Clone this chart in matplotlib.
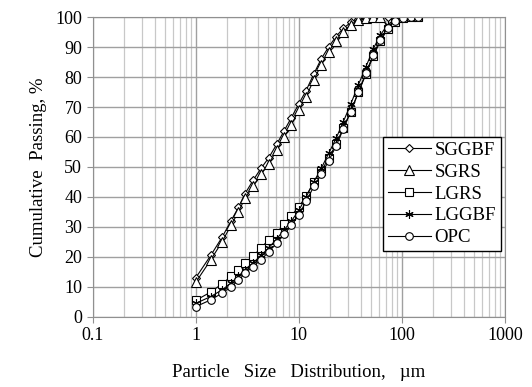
import numpy as np
import matplotlib.pyplot as plt

plt.rcParams['font.family'] = ['Liberation Serif', 'DejaVu Serif']

# particle sizes (um)
size = [1.0, 1.4, 1.8, 2.2, 2.6, 3.0, 3.6, 4.3, 5.1, 6.1, 7.2, 8.5, 10, 11.8,
        14, 16.5, 19.5, 23, 27, 32, 38, 45, 53, 62, 73, 86, 102, 122, 145]

# cumulative passing, %
sggbf = [13, 20.5, 26.5, 32, 36.5, 41, 45.5, 49.5, 53, 57.5, 62, 66.5, 71, 75.5,
         81, 86, 90, 93.5, 96.2, 98.2, 99.3, 99.8, 100, 100, 100]
sgrs = [11.5, 19, 25, 30.5, 35, 39.5, 43.5, 47.5, 51, 55.5, 60, 64, 69, 73.5,
        79, 84, 88.5, 92, 95, 97.5, 99, 99.7, 100, 100]
lgrs = [5.5, 8.3, 11, 13.5, 15.7, 18, 20.3, 23, 25.7, 28, 31, 33.8, 36.7, 40.3,
        45, 48.5, 53, 57.5, 63, 68.5, 75, 81, 87, 92, 96, 98.5, 99.6, 100, 100]
lggbf = [4.5, 6.8, 9, 11.3, 13.5, 15.8, 18, 20.5, 23, 26, 29, 32, 35.5, 40,
         45, 49.5, 54.5, 59.5, 65, 71, 77.5, 83.5, 89.5, 94, 97.5, 99.2, 99.8, 100, 100]
opc = [3.4, 5.7, 7.9, 10, 12.2, 14.5, 16.8, 19, 21.7, 24.5, 27.5, 30.5, 34, 38.5,
       43.5, 47.5, 52, 57, 62.5, 68.5, 75, 81.5, 87.5, 92.5, 96.5, 98.8, 99.7, 100, 100]

fig = plt.figure(figsize=(5.32, 3.87), dpi=100)
ax = fig.add_axes([0.174, 0.181, 0.775, 0.775])

kw = dict(color='black', lw=0.8, mfc='white', mec='black', mew=0.8)
ax.plot(size[:len(sggbf)], sggbf, marker='D', ms=4.5, label='SGGBF', **kw)
ax.plot(size[:len(sgrs)], sgrs, marker='^', ms=6.5, label='SGRS', **kw)
ax.plot(size, lgrs, marker='s', ms=5.5, label='LGRS', **kw)
ax.plot(size, lggbf, marker=(6, 2, 0), ms=6, label='LGGBF', **kw)
ax.plot(size, opc, marker='o', ms=5.5, label='OPC', **kw)

ax.set_xscale('log')
ax.set_xlim(0.1, 1000)
ax.set_ylim(0, 100)
ax.set_yticks(np.arange(0, 101, 10))
ax.set_xticks([0.1, 1, 10, 100, 1000])
ax.set_xticklabels(['0.1', '1', '10', '100', '1000'])
ax.grid(True, which='major', color='#a0a0a0', lw=1.0)
ax.grid(True, which='minor', axis='x', color='#c8c8c8', lw=0.9)
ax.set_axisbelow(True)
for s in ax.spines.values():
    s.set_color('#909090')
ax.tick_params(which='major', direction='out', length=4, color='#909090', labelsize=13)
ax.tick_params(which='minor', length=0)

ax.set_xlabel('Particle   Size   Distribution,   \u00b5m', fontsize=13.5, labelpad=14)
ax.set_ylabel('Cumulative  Passing, %', fontsize=13.5, labelpad=6)

leg = ax.legend(loc='lower right', bbox_to_anchor=(0.99, 0.22), fontsize=13.5,
                frameon=True, fancybox=False, edgecolor='black', framealpha=1,
                handlelength=2.3, handletextpad=0.2, borderpad=0.25,
                labelspacing=0.25, borderaxespad=0)
leg.get_frame().set_linewidth(1.0)

fig.savefig('out.png', dpi=100)
